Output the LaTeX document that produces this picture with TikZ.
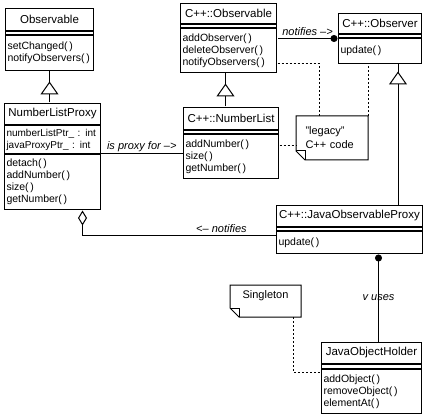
\documentclass[tikz,border=0pt]{standalone}
\usepackage{fontspec}
\setmainfont{Liberation Sans}
\usepackage{tikz}
\usetikzlibrary{positioning,fit,calc,arrows.meta,decorations.markings}
\tikzset{
  cname/.style = {draw, anchor=north west, inner xsep=2pt, inner ysep=0pt,
                  align=center, font=\fontsize{11.5}{13}\selectfont},
  cattr/.style = {draw, inner xsep=2pt, inner ysep=0pt, minimum height=3pt},
  cops/.style  = {draw, inner xsep=2pt, inner ysep=0pt, align=left,
                  font=\fontsize{10.5}{12}\selectfont},
  cbox/.style  = {inner sep=0pt},
  note/.style  = {anchor=north west, inner ysep=0pt,
                  font=\fontsize{11}{14}\selectfont},
  lbl/.style   = {font=\itshape\fontsize{11}{12}\selectfont, inner sep=2pt},
  isa/.style   = {postaction={decorate}, decoration={markings,
                  mark=at position #1 with {\arrow{Triangle[fill=white, length=13pt, width=18pt]}}}},
  agg/.style   = {-{Diamond[fill=white, length=15pt, width=9pt]}},
  assoc/.style = {arrows={Circle[length=7pt]}-},
  dep/.style   = {dash pattern=on 2pt off 2pt}
}
% note with folded corner
\newcommand{\dogear}[1]{%
  \draw (#1.north west) -- (#1.north east) -- (#1.south east)
     -- ([xshift=9pt]#1.south west) -- ([yshift=9pt]#1.south west) -- cycle;
  \draw ([yshift=9pt]#1.south west) -- ([shift={(9pt,9pt)}]#1.south west)
     -- ([xshift=9pt]#1.south west);}

\begin{document}
\begin{tikzpicture}[x=1pt, y=-1pt, line width=1pt]
  \useasboundingbox (0,0) rectangle (425,414);

  % Observable
  \node[cname, text width=84pt, minimum height=22pt] (obsN) at (5,8) {Observable};
  \node[cattr, minimum width=88pt, below=0pt of obsN] (obsA) {};
  \node[cops, text width=84pt, minimum height=35pt, below=0pt of obsA] (obsO)
       {setChanged(\,)\\notifyObservers(\,)};
  \node[cbox, fit=(obsN)(obsO)] (obs) {};

  % NumberListProxy
  \node[cname, text width=92pt, minimum height=21pt] (nlpN) at (4,103) {NumberListProxy};
  \node[cops, text width=92pt, minimum height=28pt, below=0pt of nlpN,
        font=\fontsize{10}{12}\selectfont] (nlpA)
       {numberListPtr\_ : int\\javaProxyPtr\_ : int};
  \node[cops, text width=92pt, minimum height=55pt, below=0pt of nlpA] (nlpO)
       {detach(\,)\\addNumber(\,)\\size(\,)\\getNumber(\,)};
  \node[cbox, fit=(nlpN)(nlpO)] (nlp) {};

  % C++::Observable
  \node[cname, text width=92pt, minimum height=20pt] (cobsN) at (180,3) {C++::Observable};
  \node[cattr, minimum width=96pt, below=0pt of cobsN] (cobsA) {};
  \node[cops, text width=92pt, minimum height=44pt, below=0pt of cobsA] (cobsO)
       {addObserver(\,)\\deleteObserver(\,)\\notifyObservers(\,)};
  \node[cbox, fit=(cobsN)(cobsO)] (cobs) {};

  % C++::NumberList
  \node[cname, text width=91pt, minimum height=22pt] (cnlN) at (183,107) {C++::NumberList};
  \node[cattr, minimum width=95pt, below=0pt of cnlN] (cnlA) {};
  \node[cops, text width=91pt, minimum height=44pt, below=0pt of cnlA] (cnlO)
       {addNumber(\,)\\size(\,)\\getNumber(\,)};
  \node[cbox, fit=(cnlN)(cnlO)] (cnl) {};

  % C++::Observer
  \node[cname, text width=79pt, minimum height=20pt] (cobrN) at (338,13) {C++::Observer};
  \node[cattr, minimum width=83pt, below=0pt of cobrN] (cobrA) {};
  \node[cops, text width=79pt, minimum height=25pt, below=0pt of cobrA] (cobrO) {update(\,)};
  \node[cbox, fit=(cobrN)(cobrO)] (cobr) {};

  % C++::JavaObservableProxy
  \node[cname, text width=142pt, minimum height=21pt] (jopN) at (276,205) {C++::JavaObservableProxy};
  \node[cattr, minimum width=146pt, below=0pt of jopN] (jopA) {};
  \node[cops, text width=142pt, minimum height=22pt, below=0pt of jopA] (jopO) {update(\,)};
  \node[cbox, fit=(jopN)(jopO)] (jop) {};

  % JavaObjectHolder
  \node[cname, text width=96pt, minimum height=21pt] (johN) at (321,342) {JavaObjectHolder};
  \node[cattr, minimum width=100pt, minimum height=4pt, below=0pt of johN] (johA) {};
  \node[cops, text width=96pt, minimum height=44pt, below=0pt of johA] (johO)
       {addObject(\,)\\removeObject(\,)\\elementAt(\,)};
  \node[cbox, fit=(johN)(johO)] (joh) {};

  % notes
  \node[note, text width=53pt, inner xsep=9pt, minimum height=43pt, align=left] (legacy)
       at (296,116) {"legacy"\\C++ code};
  \dogear{legacy}
  \node[note, text width=52pt, inner xsep=9pt, minimum height=31pt, align=center,
        text depth=12pt] (single) at (230,285) {Singleton};
  \dogear{single}

  % generalizations
  \draw[isa=-10pt] (nlp.north -| obs.south) -- (obs.south);
  \draw[isa=-10pt] ([xshift=-3pt]cobs.south |- cnl.north) -- ([xshift=-3pt]cobs.south);
  \draw[isa=-7pt] ([xshift=18pt]cobr.south |- jop.north) -- ([xshift=18pt]cobr.south);

  % associations
  \draw (nlpA.south east) -- (nlpA.south east -| cnl.west)
        node[lbl, above, midway] {is proxy for –>};
  \draw[assoc] (cobr.west) -- (cobr.west -| cobs.east)
        node[lbl, above, midway] {notifies –>};
  \draw[agg] ([yshift=-6pt]jop.west) -| ([xshift=30pt]nlp.south)
        node[lbl, above, pos=0.14] {<– notifies};
  \draw[assoc] ([xshift=7pt]joh.north |- jop.south) -- ([xshift=7pt]joh.north)
        node[lbl, midway] {v uses};

  % note links
  \draw[dep] ([yshift=10pt]cobs.south east) -| ([xshift=23pt]legacy.north west);
  \draw[dep] (legacy.north east) -- (legacy.north east |- cobr.south);
  \draw[dep] ([yshift=-3pt]cnl.east) -- ([yshift=-3pt]cnl.east -| legacy.west);
  \draw[dep] ([xshift=-8pt]single.south east) |- ([yshift=-3pt]johO.north west);
\end{tikzpicture}
\end{document}
